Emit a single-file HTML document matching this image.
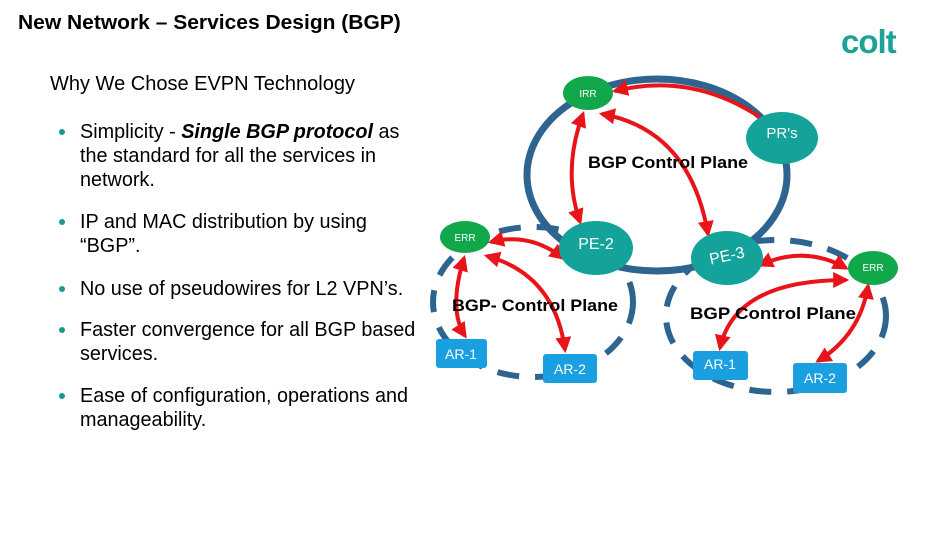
<!DOCTYPE html>
<html><head><meta charset="utf-8"><style>
body{margin:0;width:936px;height:540px;background:#fff;overflow:hidden;position:relative;font-family:"Liberation Sans",sans-serif;color:#000}
.t{position:absolute;white-space:nowrap}
.b{position:absolute;left:80px;font-size:20px;line-height:24px;white-space:nowrap;transform:scaleX(0.99);transform-origin:0 0}
.d{position:absolute;left:59px;width:6px;height:6px;border-radius:50%;background:#1a9a8a}
</style></head><body>
<div class="t" style="left:18px;top:12px;font-size:20px;font-weight:bold;transform:scaleX(1.05);transform-origin:0 0">New Network – Services Design (BGP)</div>
<div class="t" style="left:841px;top:23px;font-size:33px;font-weight:bold;color:#1aa394;letter-spacing:-1px">colt</div>
<div class="t" style="left:50px;top:73px;font-size:20px">Why We Chose EVPN Technology</div>
<div class="d" style="top:129px"></div>
<div class="b" style="top:120px">Simplicity - <b><i>Single BGP protocol</i></b> as<br>the standard for all the services in<br>network.</div>
<div class="d" style="top:219px"></div>
<div class="b" style="top:210px">IP and MAC distribution by using<br>“BGP”.</div>
<div class="d" style="top:286px"></div>
<div class="b" style="top:277px">No use of pseudowires for L2 VPN’s.</div>
<div class="d" style="top:327px"></div>
<div class="b" style="top:318px">Faster convergence for all BGP based<br>services.</div>
<div class="d" style="top:393px"></div>
<div class="b" style="top:384px">Ease of configuration, operations and<br>manageability.</div>

<svg width="936" height="540" style="position:absolute;left:0;top:0" font-family="Liberation Sans, sans-serif">
<defs>
<marker id="a" viewBox="0 0 10 10" refX="8" refY="5" markerWidth="4" markerHeight="4" orient="auto-start-reverse"><path d="M0,0L10,5L0,10z" fill="#e8141a"/></marker>
</defs>
<ellipse cx="657" cy="175" rx="130" ry="96" fill="none" stroke="#2e6490" stroke-width="7"/>
<ellipse cx="533" cy="302" rx="100" ry="75" fill="none" stroke="#2e6490" stroke-width="6" stroke-dasharray="22 16"/>
<ellipse cx="776" cy="316" rx="110" ry="76" fill="none" stroke="#2e6490" stroke-width="6" stroke-dasharray="22 16"/>
<g fill="none" stroke="#e8141a" stroke-width="4" marker-start="url(#a)" marker-end="url(#a)">
<path d="M615,91 Q700,70 775,128"/>
<path d="M583,114 Q562,170 580,222"/>
<path d="M602,114 Q690,130 708,234"/>
<path d="M491,242 Q530,232 563,258"/>
<path d="M487,256 Q555,275 565,350"/>
<path d="M464,258 Q448,310 465,336"/>
<path d="M760,265 Q805,245 846,268"/>
<path d="M846,280 Q735,280 720,348"/>
<path d="M868,286 Q860,335 818,361"/>
</g>
<ellipse cx="588" cy="93" rx="25" ry="17" fill="#10a84a"/>
<ellipse cx="782" cy="138" rx="36" ry="26" fill="#14a39a"/>
<ellipse cx="596" cy="248" rx="37" ry="27" fill="#14a39a"/>
<ellipse cx="727" cy="258" rx="36" ry="27" fill="#14a39a"/>
<ellipse cx="465" cy="237" rx="25" ry="16" fill="#10a84a"/>
<ellipse cx="873" cy="268" rx="25" ry="17" fill="#10a84a"/>
<g fill="#1aa0e0">
<rect x="436" y="339" width="51" height="29" rx="3"/>
<rect x="543" y="354" width="54" height="29" rx="3"/>
<rect x="693" y="351" width="55" height="29" rx="3"/>
<rect x="793" y="363" width="54" height="30" rx="3"/>
</g>
<g fill="#fff" text-anchor="middle">
<text x="588" y="97" font-size="10">IRR</text>
<text x="782" y="138" font-size="15">PR's</text>
<text x="596" y="249" font-size="16">PE-2</text>
<text x="727" y="261" font-size="16" transform="rotate(-12 727 256)">PE-3</text>
<text x="465" y="241" font-size="10">ERR</text>
<text x="873" y="271" font-size="10">ERR</text>
<text x="461" y="359" font-size="14">AR-1</text>
<text x="570" y="374" font-size="14">AR-2</text>
<text x="720" y="369" font-size="14">AR-1</text>
<text x="820" y="383" font-size="14">AR-2</text>
</g>
<g font-weight="bold" font-size="17" fill="#000">
<text x="588" y="168" textLength="160" lengthAdjust="spacingAndGlyphs">BGP Control Plane</text>
<text x="452" y="311" textLength="166" lengthAdjust="spacingAndGlyphs">BGP- Control Plane</text>
<text x="690" y="319" textLength="166" lengthAdjust="spacingAndGlyphs">BGP  Control Plane</text>
</g>
</svg>
</body></html>
